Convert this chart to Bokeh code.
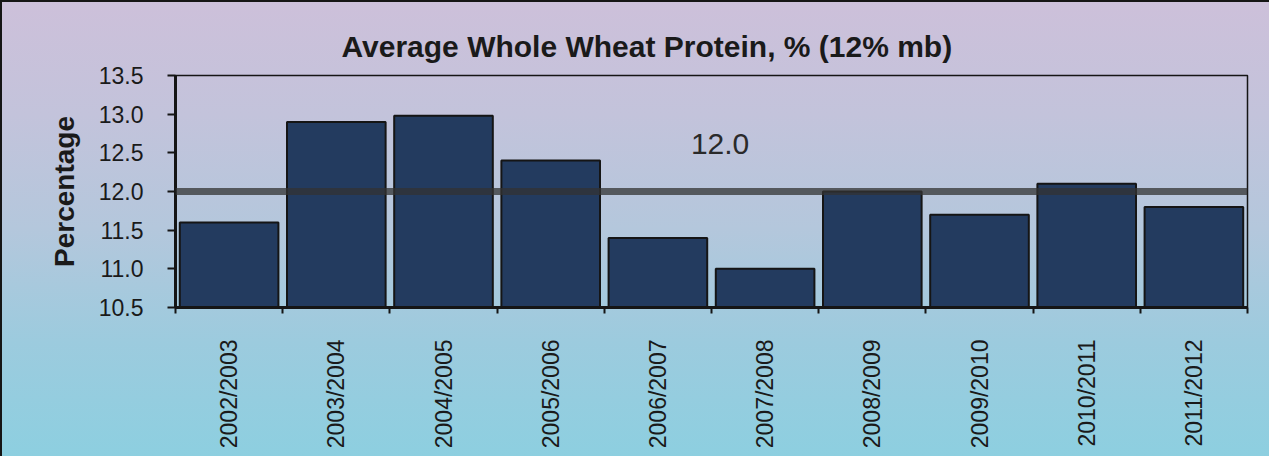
import math
import numpy as np
from bokeh.plotting import figure
from bokeh.models import Range1d, FixedTicker, PrintfTickFormatter, Span, Label, ColumnDataSource
from bokeh.embed import file_html
from bokeh.resources import INLINE

# ---- data ----
seasons = ["2002/2003", "2003/2004", "2004/2005", "2005/2006", "2006/2007",
           "2007/2008", "2008/2009", "2009/2010", "2010/2011", "2011/2012"]
protein = [11.6, 12.9, 12.98, 12.4, 11.4, 11.0, 12.0, 11.7, 12.1, 11.8]
target = 12.0
y_ticks = [10.5, 11.0, 11.5, 12.0, 12.5, 13.0, 13.5]
title_text = "Average Whole Wheat Protein, % (12% mb)"
y_label = "Percentage"

n = len(seasons)
centers = [i + 0.5 for i in range(n)]
bounds = [float(i) for i in range(n + 1)]

FONT = "Liberation Sans"

p = figure(width=1269, height=456, output_backend="svg", toolbar_location=None,
           x_range=Range1d(0, n), y_range=Range1d(y_ticks[0], y_ticks[-1]),
           min_border_left=175, min_border_right=22, min_border_top=75,
           min_border_bottom=149)

p.background_fill_alpha = 0
p.border_fill_alpha = 0
p.styles = {
    "background": "linear-gradient(to bottom, #cdc0da 0%, #c3c3db 25%, #b4c7dc 50%, #9ccbde 75%, #8dcfe0 100%)",
    "box-shadow": "inset 2px 2px 0 0 #151515",
}
p.outline_line_color = "#151515"
p.outline_line_width = 1.5
p.grid.visible = False

src = ColumnDataSource(dict(x=centers, top=protein))
p.vbar(x="x", top="top", bottom=y_ticks[0], width=0.92, source=src,
       fill_color="#233b5f", line_color="#151515", line_width=2)

p.add_layout(Span(location=target, dimension="width", line_color="#333333",
                  line_alpha=0.75, line_width=7))

p.add_layout(Label(x=5.08, y=12.62, text=f"{target:.1f}", text_align="center",
                   text_baseline="middle", text_font=FONT, text_font_size="30px",
                   text_color="#2a2a2a"))

# title
p.title.text = title_text
p.title.text_font = FONT
p.title.text_font_size = "30px"
p.title.text_font_style = "bold"
p.title.text_color = "#1a1a1a"
p.title.align = "left"
p.title.offset = 166
p.title.standoff = 26

# x axis
xa = p.xaxis[0]
xa.ticker = FixedTicker(ticks=centers, minor_ticks=bounds)
xa.major_label_overrides = {c: s for c, s in zip(centers, seasons)}
xa.major_label_orientation = math.pi / 2
xa.major_tick_out = 0
xa.major_tick_in = 0
xa.minor_tick_out = 6
xa.minor_tick_in = 0
xa.minor_tick_line_color = "#151515"
xa.minor_tick_line_width = 2
xa.axis_line_color = "#151515"
xa.axis_line_width = 3
xa.major_label_text_font = FONT
xa.major_label_text_font_size = "23px"
xa.major_label_text_color = "#1a1a1a"
xa.major_label_standoff = 26

# y axis
ya = p.yaxis[0]
ya.ticker = FixedTicker(ticks=y_ticks, minor_ticks=[])
ya.formatter = PrintfTickFormatter(format="%.1f")
ya.major_tick_out = 8
ya.major_tick_in = 0
ya.major_tick_line_color = "#151515"
ya.major_tick_line_width = 2
ya.minor_tick_out = 0
ya.minor_tick_in = 0
ya.axis_line_color = "#151515"
ya.axis_line_width = 3
ya.major_label_text_font = FONT
ya.major_label_text_font_size = "23px"
ya.major_label_text_color = "#1a1a1a"
ya.major_label_standoff = 24
ya.axis_label = y_label
ya.axis_label_text_font = FONT
ya.axis_label_text_font_size = "28px"
ya.axis_label_text_font_style = "bold"
ya.axis_label_text_color = "#1a1a1a"
ya.axis_label_standoff = 16

open("out.html", "w").write(file_html(p, INLINE))
